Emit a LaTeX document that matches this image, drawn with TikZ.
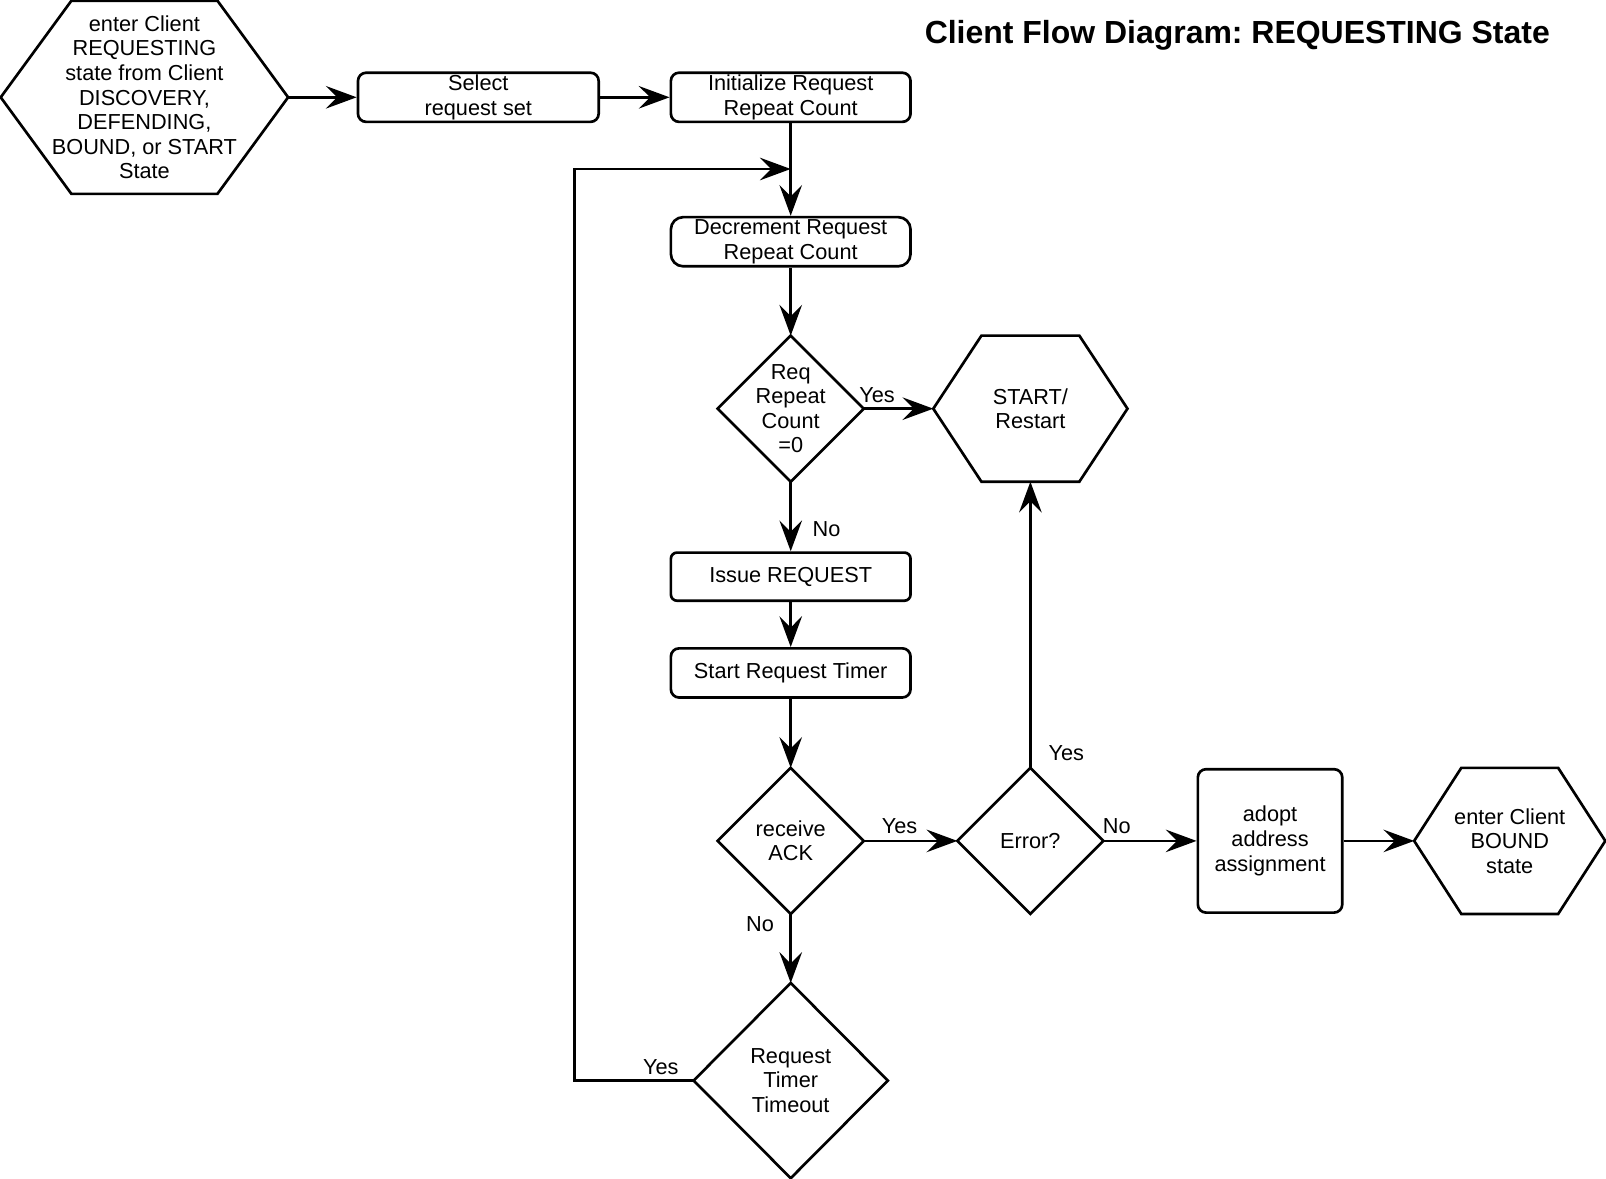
\documentclass[tikz,border=0pt]{standalone}
\usepackage{fontspec}
\setmainfont{Liberation Sans}
\usetikzlibrary{arrows.meta}
\newcommand\fsz{\fontsize{10.6}{12}\selectfont}
\newcommand\hexshape[2]{\draw (#1.west) -- ([xshift=#2]#1.north west) -- ([xshift=-#2]#1.north east) -- (#1.east) -- ([xshift=-#2]#1.south east) -- ([xshift=#2]#1.south west) -- cycle;}
\newcommand\diashape[1]{\draw (#1.north) -- (#1.east) -- (#1.south) -- (#1.west) -- cycle;}
\frenchspacing
\begin{document}
\frenchspacing
\begin{tikzpicture}[x=0.5pt,y=-0.5pt,
  line width=1.3pt,
  arr/.style={-{Stealth[length=15pt,width=11pt,inset=5.5pt]}},
  box/.style={draw, rounded corners=4pt, align=center, inner sep=0pt, font=\fsz, minimum width=117pt, minimum height=24pt},
  hexbox/.style={align=center, inner sep=0pt, font=\fsz},
  dia/.style={align=center, inner sep=0pt, font=\fsz, minimum width=70pt, minimum height=70pt},
  lbl/.style={font=\fsz, inner sep=0pt},
]
\useasboundingbox (0,0) rectangle (1568,1151);

\node[font=\fontsize{15.6}{18}\selectfont\bfseries, inner sep=0pt] (title) at (1208,34) {Client Flow Diagram: REQUESTING State};

% nodes
\node[hexbox, minimum width=139pt, minimum height=93pt] (hs) at (141,95) {enter Client\\REQUESTING\\state from Client\\DISCOVERY,\\DEFENDING,\\BOUND, or START\\State};
\hexshape{hs}{34.5pt}

\node[box, minimum width=117.5pt] (sel) at (467,95) {Select\\request set};
\node[box] (init) at (772,95) {Initialize Request\\Repeat Count};
\node[box, rounded corners=6pt] (dec) at (772,236) {Decrement Request\\Repeat Count};

\node[dia] (d1) at (772,399) {Req\\Repeat\\Count\\=0};
\diashape{d1}

\node[hexbox, minimum width=93.5pt, minimum height=70pt] (sr) at (1006,399) {START/\\Restart};
\hexshape{sr}{23.5pt}

\node[box, minimum height=23.5pt, rounded corners=3pt] (iss) at (772,563) {Issue REQUEST};
\node[box] (tim) at (772,657) {Start Request Timer};

\node[dia] (d2) at (772,821) {receive\\ACK};
\diashape{d2}

\node[dia] (err) at (1006,821) {Error?};
\diashape{err}

\node[box, minimum width=70.5pt, minimum height=70pt] (ad) at (1240,821) {adopt\\address\\assignment};

\node[hexbox, minimum width=92pt, minimum height=70pt] (bd) at (1474,821) {enter Client\\BOUND\\state};
\hexshape{bd}{23pt}

\node[dia, minimum width=93.5pt, minimum height=94pt] (d3) at (772,1055) {Request\\Timer\\Timeout};
\diashape{d3}

\coordinate (lc) at (561,165);
\coordinate (lj) at (772,165);

% connectors
\draw[arr] (hs.east) -- (sel.west);
\draw[arr] (sel.east) -- (init.west);
\draw[arr] (init.south) -- (dec.north);
\draw[arr] (dec.south) -- (d1.north);
\draw[arr] (d1.east) -- (sr.west) node[lbl] at ([shift={(13,-13)}]d1.east) {Yes};
\draw[arr] (d1.south) -- (iss.north) node[lbl] at ([shift={(35,46)}]d1.south) {No};
\draw[arr] (iss.south) -- (tim.north);
\draw[arr] (tim.south) -- (d2.north);
\draw[arr] (d2.east) -- (err.west) node[lbl] at ([shift={(35,-14)}]d2.east) {Yes};
\draw[arr] (err.north) -- (sr.south) node[lbl] at ([shift={(35,-14)}]err.north) {Yes};
\draw[arr] (err.east) -- (ad.west) node[lbl] at ([shift={(13,-14)}]err.east) {No};
\draw[arr] (ad.east) -- (bd.west);
\draw[arr] (d2.south) -- (d3.north) node[lbl] at ([shift={(-30,10)}]d2.south) {No};
\draw[arr] (d3.west) -| (lc) -- (lj) node[lbl] at ([shift={(-32,-13)}]d3.west) {Yes};
\end{tikzpicture}
\end{document}
